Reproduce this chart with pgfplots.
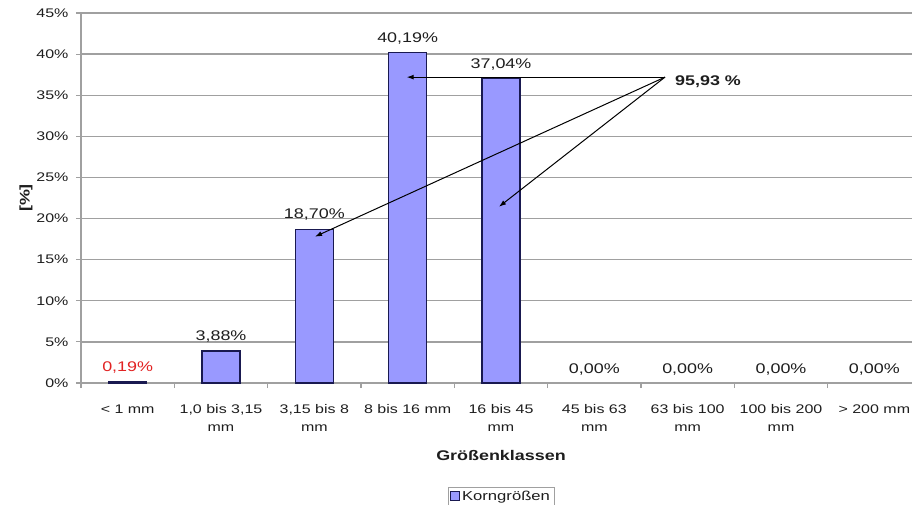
\documentclass[border=0pt]{standalone}
\usepackage{pgfplots}
\pgfplotsset{compat=1.18}
\usepackage{fontspec}
\setmainfont[FakeStretch=1.28]{Liberation Sans}
\usetikzlibrary{arrows.meta}

\definecolor{barfill}{RGB}{153,153,255}
\definecolor{barline}{RGB}{25,25,80}
\definecolor{gridgray}{RGB}{160,160,160}
\definecolor{labelred}{RGB}{225,35,35}
\definecolor{txt}{RGB}{30,30,30}

\begin{document}
\begin{tikzpicture}[x=1pt,y=1pt]
% page frame; the last category runs past the right edge
\path[use as bounding box] (-81,-121) rectangle (831,383);
\begin{axis}[
  at={(0,0)}, anchor=south west,
  scale only axis, width=840pt, height=370pt,
  xmin=-0.5, xmax=8.5, ymin=0, ymax=45,
  axis x line*=bottom, axis y line*=left,
  axis line style={gridgray, line width=1.2pt},
  tick align=outside, major tick length=5pt,
  ytick={0,5,...,45},
  yticklabels={0\%,5\%,10\%,15\%,20\%,25\%,30\%,35\%,40\%,45\%},
  ytick style={draw=gridgray, line width=1.2pt},
  yticklabel style={font=\fontsize{12.5}{15}\selectfont, text=txt, xshift=-4pt},
  ymajorgrids, grid style={gridgray, line width=1.3pt},
  xtick={0,...,8},
  xticklabels={{< 1 mm},{1,0 bis 3,15\\mm},{3,15 bis 8\\mm},{8 bis 16 mm},{16 bis 45\\mm},{45 bis 63\\mm},{63 bis 100\\mm},{100 bis 200\\mm},{> 200 mm}},
  xtick style={draw=none},
  xticklabel style={align=center, anchor=north, yshift=-13pt,
    font=\fontsize{12.5}{18}\selectfont, text=txt},
  extra x ticks={-0.5,0.5,...,8.5},
  extra x tick labels={},
  extra x tick style={xtick style={draw=gridgray, line width=1.2pt}},
  xlabel={\bfseries Größenklassen},
  every axis x label/.style={at={(axis description cs:0.5,0)}, anchor=base,
    yshift=-77pt, font=\fontsize{14}{16}\selectfont, text=txt},
  ylabel={\bfseries [\%]},
  every axis y label/.style={at={(axis description cs:0,0.5)}, xshift=-55pt,
    rotate=90, anchor=center, font=\fontsize{14}{16}\selectfont, text=txt},
  legend style={at={(axis description cs:0.5,-0.281)}, anchor=north,
    draw=gridgray, line width=0.8pt, font=\fontsize{13}{15}\selectfont,
    inner sep=2pt, text=txt},
  legend cell align=left,
  legend image code/.code={\draw[fill=barfill, draw=barline, line width=1pt] (0pt,-4pt) rectangle (9pt,5pt);},
  clip=false,
]
% bars with their value labels
\addplot[ybar, bar width=38pt, bar shift=0pt, fill=barfill, draw=barline, line width=1.3pt,
  nodes near coords, point meta=explicit symbolic,
  every node near coord/.append style={font=\fontsize{14}{16}\selectfont, text=txt,
    anchor=south, inner sep=0pt, yshift=8pt}]
coordinates {
  (0,0.19)  [{\textcolor{labelred}{0,19\%}}]
  (1,3.88)  [3,88\%]
  (2,18.70) [18,70\%]
  (3,40.19) [40,19\%]
  (4,37.04) [37,04\%]
};
\addlegendentry{Korngrößen}
% empty classes: only their labels
\addplot[draw=none, forget plot,
  nodes near coords, point meta=explicit symbolic,
  every node near coord/.append style={font=\fontsize{14}{16}\selectfont, text=txt,
    anchor=south, inner sep=0pt, yshift=8pt}]
coordinates {
  (5,0) [0,00\%]
  (6,0) [0,00\%]
  (7,0) [0,00\%]
  (8,0) [0,00\%]
};
% sum of the three main classes
\draw[-{Latex[length=7pt,width=5pt]}, line width=1pt, black] (axis cs:5.757,37.2) -- (axis cs:2.99,37.2);
\draw[-{Latex[length=7pt,width=5pt]}, line width=1pt, black] (axis cs:5.757,37.2) -- (axis cs:2.007,17.8);
\draw[-{Latex[length=7pt,width=5pt]}, line width=1pt, black] (axis cs:5.757,37.2) -- (axis cs:3.979,21.44);
\node[anchor=west, inner sep=0pt, font=\fontsize{14}{16}\selectfont\bfseries, text=txt]
  at (axis cs:5.864,36.65) {95,93 \%};
\end{axis}
\end{tikzpicture}
\end{document}
